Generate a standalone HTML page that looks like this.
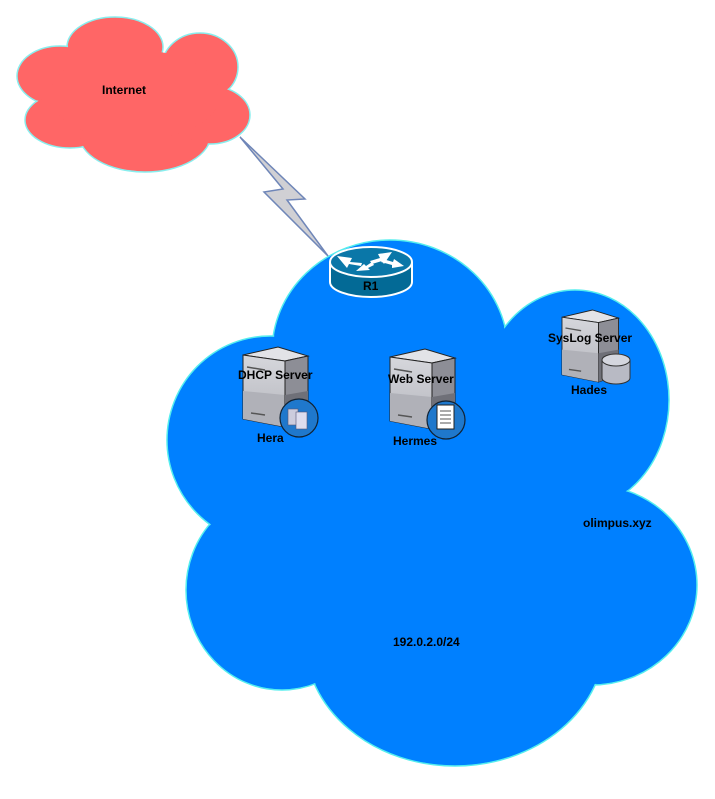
<!DOCTYPE html>
<html><head><style>
body{margin:0;background:#fff;width:715px;height:794px;overflow:hidden}
text{font-family:"Liberation Sans",sans-serif;font-weight:bold;font-size:12px;fill:#000}
</style></head><body>
<svg width="715" height="794" viewBox="0 0 715 794">
<defs>
<linearGradient id="sv" x1="0" y1="0" x2="0" y2="1"><stop offset="0" stop-color="#d6d7dc"/><stop offset="1" stop-color="#b4b5bc"/></linearGradient>
<g id="srv">
<polygon points="0,8 35,0 65,9 42,14" fill="#e2e3e7" stroke="#222" stroke-width="1"/>
<polygon points="0,8 42,14 42,80 0,72" fill="url(#sv)" stroke="#222" stroke-width="1"/>
<polygon points="0,44 42,48 42,80 0,72" fill="#b0b1b8"/>
<polygon points="42,14 65,9 65,72 42,80" fill="#8d8e96" stroke="#222" stroke-width="1"/>
<polygon points="42,48 65,44 65,72 42,80" fill="#6f7078"/>
<line x1="4" y1="20" x2="22" y2="23" stroke="#555" stroke-width="1.5"/>
<line x1="8" y1="66" x2="22" y2="68" stroke="#555" stroke-width="1.5"/>
</g>
</defs>
<!-- red cloud -->
<g fill="#ff6666" stroke="#8ee" stroke-width="1.5">
<ellipse cx="115" cy="47" rx="48" ry="30"/><ellipse cx="200" cy="67" rx="38" ry="34"/><ellipse cx="60" cy="76" rx="43" ry="30"/><ellipse cx="70" cy="120" rx="45" ry="28"/><ellipse cx="145" cy="134" rx="66" ry="38"/><ellipse cx="210" cy="115" rx="40" ry="29"/>
</g>
<g fill="#ff6666">
<ellipse cx="115" cy="47" rx="47" ry="29"/><ellipse cx="200" cy="67" rx="37" ry="33"/><ellipse cx="60" cy="76" rx="42" ry="29"/><ellipse cx="70" cy="120" rx="44" ry="27"/><ellipse cx="145" cy="134" rx="65" ry="37"/><ellipse cx="210" cy="115" rx="39" ry="28"/><ellipse cx="135" cy="95" rx="85" ry="45"/>
</g>
<text x="102" y="94">Internet</text>
<!-- blue cloud -->
<g fill="#0080ff" stroke="#5ee" stroke-width="1.5">
<ellipse cx="390" cy="352" rx="118" ry="112"/><ellipse cx="575" cy="400" rx="94" ry="110"/><ellipse cx="592" cy="585" rx="105" ry="100"/><ellipse cx="455" cy="640" rx="150" ry="126"/><ellipse cx="282" cy="590" rx="96" ry="100"/><ellipse cx="270" cy="440" rx="103" ry="104"/>
</g>
<g fill="#0080ff">
<ellipse cx="390" cy="352" rx="117" ry="111"/><ellipse cx="575" cy="400" rx="93" ry="109"/><ellipse cx="592" cy="585" rx="104" ry="99"/><ellipse cx="455" cy="640" rx="149" ry="125"/><ellipse cx="282" cy="590" rx="95" ry="99"/><ellipse cx="270" cy="440" rx="102" ry="103"/><circle cx="440" cy="500" r="170"/>
</g>
<!-- lightning -->
<polygon points="240,137 305,199 287,200 328,256 264,192 283,189" fill="#d0d0d4" stroke="#6f86b8" stroke-width="1.5"/>
<!-- router -->
<g stroke="#fff" stroke-width="2">
<path d="M330,262 v20 a41,15 0 0 0 82,0 v-20" fill="#036a96"/>
<ellipse cx="371" cy="262" rx="41" ry="15" fill="#0a77a8"/>
</g>
<g fill="#fff"><polygon points="337,256 352,258 350,262 362,263 361,266 349,264 347,268"/><polygon points="392,252 378,254 380,258 370,261 372,264 382,261 384,264"/><polygon points="356,271 364,264 366,266 372,262 374,265 368,268 370,270"/><polygon points="404,266 392,268 392,265 381,262 383,259 393,262 394,259"/></g>
<text x="363" y="290">R1</text>
<!-- servers -->
<use href="#srv" x="243" y="347"/>
<circle cx="299" cy="418" r="19" fill="#1f78cc" stroke="#123" stroke-width="1.2"/>
<rect x="288" y="409" width="10" height="16" fill="#ccd" stroke="#557" stroke-width="0.6"/><rect x="296" y="412" width="11" height="17" fill="#dde" stroke="#557" stroke-width="0.6"/>
<text x="238" y="379">DHCP Server</text><text x="257" y="442">Hera</text>
<use href="#srv" x="390" y="349"/>
<circle cx="446" cy="420" r="19" fill="#1f78cc" stroke="#123" stroke-width="1.2"/>
<rect x="437" y="405" width="17" height="24" fill="#fff" stroke="#222"/>
<g stroke="#555"><line x1="440" y1="411" x2="451" y2="411"/><line x1="440" y1="415" x2="451" y2="415"/><line x1="440" y1="419" x2="451" y2="419"/><line x1="440" y1="423" x2="451" y2="423"/></g>
<text x="388" y="383">Web Server</text><text x="393" y="445">Hermes</text>
<use href="#srv" transform="translate(562,310) scale(0.87,0.9)"/>
<path d="M602,360 v18 a14,6 0 0 0 28,0 v-18" fill="#b8bac4" stroke="#333"/>
<ellipse cx="616" cy="360" rx="14" ry="6" fill="#d4d6de" stroke="#333"/>
<text x="548" y="342">SysLog Server</text><text x="571" y="394">Hades</text>
<text x="583" y="527">olimpus.xyz</text>
<text x="393" y="646">192.0.2.0/24</text>
</svg>
</body></html>
